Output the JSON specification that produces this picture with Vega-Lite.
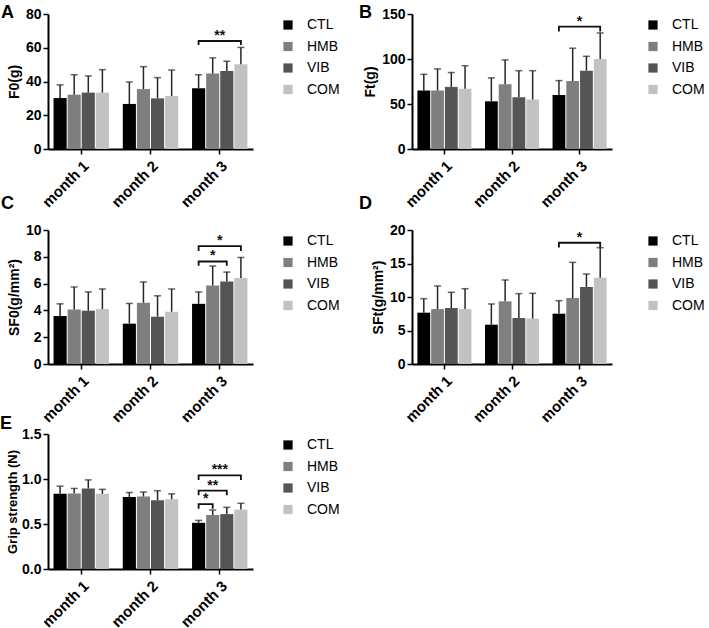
{
"$schema":"https://vega.github.io/schema/vega-lite/v6.json",
"padding":{"left":0,"top":4,"right":0,"bottom":0},
"spacing":-10,
"resolve":{"scale":{"color":"independent","y":"independent","x":"independent","xOffset":"independent"},"legend":{"color":"independent"}},
"config":{
 "font":"Liberation Sans",
 "view":{"stroke":null},
 "axis":{"domainColor":"#000","domainWidth":2,"tickColor":"#000","tickWidth":1.5,"tickSize":5,"labelColor":"#000","labelFontWeight":"bold","labelFontSize":14,"titleFontWeight":"bold","titleFontSize":14,"titleColor":"#000","grid":false},
 "axisX":{"labelAngle":-45,"title":null,"labelFontSize":15,"labelPadding":4},
 "legend":{"symbolType":"square","symbolSize":85,"labelFontSize":14,"labelColor":"#000","rowPadding":7.5,"offset":24,"labelOffset":12,"symbolStrokeWidth":0,"padding":4},
 "title":{"fontSize":18,"fontWeight":"bold","anchor":"start","frame":"group","color":"#000"}
},
"vconcat":[
{
"columns":2,
"spacing":{"row":-15,"column":15},
"resolve":{"scale":{"color":"independent","y":"independent","x":"independent","xOffset":"independent"},"legend":{"color":"independent"}},
"concat":[
{
 "width":205,"height":135,
 "title":{"text":"A","dx":-47,"offset":-15},
 "data":{"values":[
  {"month":"month 1","group":"CTL","mean":30.2,"err":38},
  {"month":"month 1","group":"HMB","mean":32.2,"err":44},
  {"month":"month 1","group":"VIB","mean":33.4,"err":43.3},
  {"month":"month 1","group":"COM","mean":33.4,"err":47},
  {"month":"month 2","group":"CTL","mean":26.7,"err":39.7},
  {"month":"month 2","group":"HMB","mean":35.5,"err":48.8},
  {"month":"month 2","group":"VIB","mean":30,"err":42.3},
  {"month":"month 2","group":"COM","mean":31.4,"err":46.8},
  {"month":"month 3","group":"CTL","mean":36,"err":44},
  {"month":"month 3","group":"HMB","mean":44.7,"err":54},
  {"month":"month 3","group":"VIB","mean":46.2,"err":52},
  {"month":"month 3","group":"COM","mean":50.2,"err":60.2}
 ]},
 "layer":[
  {"mark":{"type":"bar"},"encoding":{
   "x":{"field":"month","type":"nominal","scale":{"paddingInner":0.2,"paddingOuter":0.08},"title":null},
   "xOffset":{"field":"group","type":"nominal","scale":{"domain":["CTL","HMB","VIB","COM"],"paddingInner":0.07}},
   "y":{"field":"mean","type":"quantitative","scale":{"domain":[0,80]},"axis":{"values":[0,20,40,60,80]},"title":"F0(g)"},
   "color":{"field":"group","type":"nominal","scale":{"domain":["CTL","HMB","VIB","COM"],"range":["#000000","#7f7f7f","#555555","#c2c2c2"]},"legend":{"title":null}}}},
  {"mark":{"type":"rule","color":"#262626","strokeWidth":1.5},"encoding":{
   "x":{"field":"month","type":"nominal"},
   "xOffset":{"field":"group","type":"nominal"},
   "y":{"field":"mean","type":"quantitative","scale":{"domain":[0,80]},"axis":{"values":[0,20,40,60,80]},"title":"F0(g)"},"y2":{"field":"err"}}},
  {"mark":{"type":"tick","color":"#262626","thickness":1.5,"size":7},"encoding":{
   "x":{"field":"month","type":"nominal"},
   "xOffset":{"field":"group","type":"nominal"},
   "y":{"field":"err","type":"quantitative","scale":{"domain":[0,80]},"axis":{"values":[0,20,40,60,80]},"title":"F0(g)"}}},
  {"data":{"values":[
   {"id":"a","month":"month 3","group":"CTL","y":61.6,"s":1},
   {"id":"a","month":"month 3","group":"CTL","y":64,"s":2},
   {"id":"a","month":"month 3","group":"COM","y":64,"s":3},
   {"id":"a","month":"month 3","group":"COM","y":61.6,"s":4}]},
   "mark":{"type":"line","color":"#111","strokeWidth":1.8},"encoding":{
   "x":{"field":"month","type":"nominal"},
   "xOffset":{"field":"group","type":"nominal"},
   "y":{"field":"y","type":"quantitative","scale":{"domain":[0,80]},"axis":{"values":[0,20,40,60,80]},"title":"F0(g)"},
   "detail":{"field":"id"},"order":{"field":"s"}}},
  {"data":{"values":[{"month":"month 3","group":"VIB","y":64,"label":"**"}]},
   "mark":{"type":"text","fontSize":14,"fontWeight":"bold","baseline":"alphabetic","dy":-1,"dx":-7,"color":"#111"},"encoding":{
   "x":{"field":"month","type":"nominal"},
   "xOffset":{"field":"group","type":"nominal"},
   "y":{"field":"y","type":"quantitative","scale":{"domain":[0,80]},"axis":{"values":[0,20,40,60,80]},"title":"F0(g)"},
   "text":{"field":"label"}}}
 ]
},
{
 "width":200,"height":135,
 "title":{"text":"B","dx":-53,"offset":-15},
 "data":{"values":[
  {"month":"month 1","group":"CTL","mean":65,"err":83},
  {"month":"month 1","group":"HMB","mean":65,"err":89},
  {"month":"month 1","group":"VIB","mean":69,"err":85},
  {"month":"month 1","group":"COM","mean":67,"err":92.5},
  {"month":"month 2","group":"CTL","mean":53,"err":79},
  {"month":"month 2","group":"HMB","mean":72,"err":99},
  {"month":"month 2","group":"VIB","mean":57.5,"err":87},
  {"month":"month 2","group":"COM","mean":55,"err":87},
  {"month":"month 3","group":"CTL","mean":60,"err":76},
  {"month":"month 3","group":"HMB","mean":75.5,"err":112},
  {"month":"month 3","group":"VIB","mean":87,"err":103},
  {"month":"month 3","group":"COM","mean":100,"err":129}
 ]},
 "layer":[
  {"mark":{"type":"bar"},"encoding":{
   "x":{"field":"month","type":"nominal","scale":{"paddingInner":0.2,"paddingOuter":0.08},"title":null},
   "xOffset":{"field":"group","type":"nominal","scale":{"domain":["CTL","HMB","VIB","COM"],"paddingInner":0.07}},
   "y":{"field":"mean","type":"quantitative","scale":{"domain":[0,150]},"axis":{"values":[0,50,100,150]},"title":"Ft(g)"},
   "color":{"field":"group","type":"nominal","scale":{"domain":["CTL","HMB","VIB","COM"],"range":["#000000","#7f7f7f","#555555","#c2c2c2"]},"legend":{"title":null,"offset":30}}}},
  {"mark":{"type":"rule","color":"#262626","strokeWidth":1.5},"encoding":{
   "x":{"field":"month","type":"nominal"},
   "xOffset":{"field":"group","type":"nominal"},
   "y":{"field":"mean","type":"quantitative","scale":{"domain":[0,150]},"axis":{"values":[0,50,100,150]},"title":"Ft(g)"},"y2":{"field":"err"}}},
  {"mark":{"type":"tick","color":"#262626","thickness":1.5,"size":7},"encoding":{
   "x":{"field":"month","type":"nominal"},
   "xOffset":{"field":"group","type":"nominal"},
   "y":{"field":"err","type":"quantitative","scale":{"domain":[0,150]},"axis":{"values":[0,50,100,150]},"title":"Ft(g)"}}},
  {"data":{"values":[
   {"id":"a","month":"month 3","group":"CTL","y":130.5,"s":1},
   {"id":"a","month":"month 3","group":"CTL","y":136,"s":2},
   {"id":"a","month":"month 3","group":"COM","y":136,"s":3},
   {"id":"a","month":"month 3","group":"COM","y":130.5,"s":4}]},
   "mark":{"type":"line","color":"#111","strokeWidth":1.8},"encoding":{
   "x":{"field":"month","type":"nominal"},
   "xOffset":{"field":"group","type":"nominal"},
   "y":{"field":"y","type":"quantitative","scale":{"domain":[0,150]},"axis":{"values":[0,50,100,150]},"title":"Ft(g)"},
   "detail":{"field":"id"},"order":{"field":"s"}}},
  {"data":{"values":[{"month":"month 3","group":"VIB","y":136,"label":"*"}]},
   "mark":{"type":"text","fontSize":14,"fontWeight":"bold","baseline":"alphabetic","dy":-1,"dx":-7,"color":"#111"},"encoding":{
   "x":{"field":"month","type":"nominal"},
   "xOffset":{"field":"group","type":"nominal"},
   "y":{"field":"y","type":"quantitative","scale":{"domain":[0,150]},"axis":{"values":[0,50,100,150]},"title":"Ft(g)"},
   "text":{"field":"label"}}}
 ]
},
{
 "width":205,"height":134,
 "title":{"text":"C","dx":-47,"offset":10},
 "data":{"values":[
  {"month":"month 1","group":"CTL","mean":3.58,"err":4.49},
  {"month":"month 1","group":"HMB","mean":4.07,"err":5.75},
  {"month":"month 1","group":"VIB","mean":3.98,"err":5.38},
  {"month":"month 1","group":"COM","mean":4.1,"err":5.6},
  {"month":"month 2","group":"CTL","mean":3.01,"err":4.52},
  {"month":"month 2","group":"HMB","mean":4.57,"err":6.12},
  {"month":"month 2","group":"VIB","mean":3.53,"err":5.09},
  {"month":"month 2","group":"COM","mean":3.9,"err":5.6},
  {"month":"month 3","group":"CTL","mean":4.49,"err":5.38},
  {"month":"month 3","group":"HMB","mean":5.85,"err":7.31},
  {"month":"month 3","group":"VIB","mean":6.15,"err":6.86},
  {"month":"month 3","group":"COM","mean":6.42,"err":7.95}
 ]},
 "layer":[
  {"mark":{"type":"bar"},"encoding":{
   "x":{"field":"month","type":"nominal","scale":{"paddingInner":0.2,"paddingOuter":0.08},"title":null},
   "xOffset":{"field":"group","type":"nominal","scale":{"domain":["CTL","HMB","VIB","COM"],"paddingInner":0.07}},
   "y":{"field":"mean","type":"quantitative","scale":{"domain":[0,10]},"axis":{"values":[0,2,4,6,8,10]},"title":"SF0(g/mm²)"},
   "color":{"field":"group","type":"nominal","scale":{"domain":["CTL","HMB","VIB","COM"],"range":["#000000","#7f7f7f","#555555","#c2c2c2"]},"legend":{"title":null}}}},
  {"mark":{"type":"rule","color":"#262626","strokeWidth":1.5},"encoding":{
   "x":{"field":"month","type":"nominal"},
   "xOffset":{"field":"group","type":"nominal"},
   "y":{"field":"mean","type":"quantitative","scale":{"domain":[0,10]},"axis":{"values":[0,2,4,6,8,10]},"title":"SF0(g/mm²)"},"y2":{"field":"err"}}},
  {"mark":{"type":"tick","color":"#262626","thickness":1.5,"size":7},"encoding":{
   "x":{"field":"month","type":"nominal"},
   "xOffset":{"field":"group","type":"nominal"},
   "y":{"field":"err","type":"quantitative","scale":{"domain":[0,10]},"axis":{"values":[0,2,4,6,8,10]},"title":"SF0(g/mm²)"}}},
  {"data":{"values":[
   {"id":"a","month":"month 3","group":"CTL","y":7.33,"s":1},
   {"id":"a","month":"month 3","group":"CTL","y":7.65,"s":2},
   {"id":"a","month":"month 3","group":"VIB","y":7.65,"s":3},
   {"id":"a","month":"month 3","group":"VIB","y":7.33,"s":4},
   {"id":"b","month":"month 3","group":"CTL","y":8.44,"s":1},
   {"id":"b","month":"month 3","group":"CTL","y":8.79,"s":2},
   {"id":"b","month":"month 3","group":"COM","y":8.79,"s":3},
   {"id":"b","month":"month 3","group":"COM","y":8.44,"s":4}]},
   "mark":{"type":"line","color":"#111","strokeWidth":1.8},"encoding":{
   "x":{"field":"month","type":"nominal"},
   "xOffset":{"field":"group","type":"nominal"},
   "y":{"field":"y","type":"quantitative","scale":{"domain":[0,10]},"axis":{"values":[0,2,4,6,8,10]},"title":"SF0(g/mm²)"},
   "detail":{"field":"id"},"order":{"field":"s"}}},
  {"data":{"values":[{"month":"month 3","group":"HMB","y":7.65,"label":"*"}]},
   "mark":{"type":"text","fontSize":14,"fontWeight":"bold","baseline":"alphabetic","dy":-1,"color":"#111"},"encoding":{
   "x":{"field":"month","type":"nominal"},
   "xOffset":{"field":"group","type":"nominal"},
   "y":{"field":"y","type":"quantitative","scale":{"domain":[0,10]},"axis":{"values":[0,2,4,6,8,10]},"title":"SF0(g/mm²)"},
   "text":{"field":"label"}}},
  {"data":{"values":[{"month":"month 3","group":"VIB","y":8.79,"label":"*"}]},
   "mark":{"type":"text","fontSize":14,"fontWeight":"bold","baseline":"alphabetic","dy":-1,"dx":-7,"color":"#111"},"encoding":{
   "x":{"field":"month","type":"nominal"},
   "xOffset":{"field":"group","type":"nominal"},
   "y":{"field":"y","type":"quantitative","scale":{"domain":[0,10]},"axis":{"values":[0,2,4,6,8,10]},"title":"SF0(g/mm²)"},
   "text":{"field":"label"}}}
 ]
},
{
 "width":200,"height":134,
 "title":{"text":"D","dx":-53,"offset":10},
 "data":{"values":[
  {"month":"month 1","group":"CTL","mean":7.66,"err":9.75},
  {"month":"month 1","group":"HMB","mean":8.2,"err":11.64},
  {"month":"month 1","group":"VIB","mean":8.36,"err":10.7},
  {"month":"month 1","group":"COM","mean":8.2,"err":11.24},
  {"month":"month 2","group":"CTL","mean":5.87,"err":8.96},
  {"month":"month 2","group":"HMB","mean":9.35,"err":12.54},
  {"month":"month 2","group":"VIB","mean":6.87,"err":10.5},
  {"month":"month 2","group":"COM","mean":6.77,"err":10.55},
  {"month":"month 3","group":"CTL","mean":7.51,"err":9.45},
  {"month":"month 3","group":"HMB","mean":9.85,"err":15.17},
  {"month":"month 3","group":"VIB","mean":11.49,"err":13.43},
  {"month":"month 3","group":"COM","mean":12.89,"err":17.36}
 ]},
 "layer":[
  {"mark":{"type":"bar"},"encoding":{
   "x":{"field":"month","type":"nominal","scale":{"paddingInner":0.2,"paddingOuter":0.08},"title":null},
   "xOffset":{"field":"group","type":"nominal","scale":{"domain":["CTL","HMB","VIB","COM"],"paddingInner":0.07}},
   "y":{"field":"mean","type":"quantitative","scale":{"domain":[0,20]},"axis":{"values":[0,5,10,15,20]},"title":"SFt(g/mm²)"},
   "color":{"field":"group","type":"nominal","scale":{"domain":["CTL","HMB","VIB","COM"],"range":["#000000","#7f7f7f","#555555","#c2c2c2"]},"legend":{"title":null,"offset":30}}}},
  {"mark":{"type":"rule","color":"#262626","strokeWidth":1.5},"encoding":{
   "x":{"field":"month","type":"nominal"},
   "xOffset":{"field":"group","type":"nominal"},
   "y":{"field":"mean","type":"quantitative","scale":{"domain":[0,20]},"axis":{"values":[0,5,10,15,20]},"title":"SFt(g/mm²)"},"y2":{"field":"err"}}},
  {"mark":{"type":"tick","color":"#262626","thickness":1.5,"size":7},"encoding":{
   "x":{"field":"month","type":"nominal"},
   "xOffset":{"field":"group","type":"nominal"},
   "y":{"field":"err","type":"quantitative","scale":{"domain":[0,20]},"axis":{"values":[0,5,10,15,20]},"title":"SFt(g/mm²)"}}},
  {"data":{"values":[
   {"id":"a","month":"month 3","group":"CTL","y":17.4,"s":1},
   {"id":"a","month":"month 3","group":"CTL","y":18.1,"s":2},
   {"id":"a","month":"month 3","group":"COM","y":18.1,"s":3},
   {"id":"a","month":"month 3","group":"COM","y":17.4,"s":4}]},
   "mark":{"type":"line","color":"#111","strokeWidth":1.8},"encoding":{
   "x":{"field":"month","type":"nominal"},
   "xOffset":{"field":"group","type":"nominal"},
   "y":{"field":"y","type":"quantitative","scale":{"domain":[0,20]},"axis":{"values":[0,5,10,15,20]},"title":"SFt(g/mm²)"},
   "detail":{"field":"id"},"order":{"field":"s"}}},
  {"data":{"values":[{"month":"month 3","group":"VIB","y":18.1,"label":"*"}]},
   "mark":{"type":"text","fontSize":14,"fontWeight":"bold","baseline":"alphabetic","dy":-1,"dx":-7,"color":"#111"},"encoding":{
   "x":{"field":"month","type":"nominal"},
   "xOffset":{"field":"group","type":"nominal"},
   "y":{"field":"y","type":"quantitative","scale":{"domain":[0,20]},"axis":{"values":[0,5,10,15,20]},"title":"SFt(g/mm²)"},
   "text":{"field":"label"}}}
 ]
}
]
},
{
"hconcat":[
{
 "width":205,"height":135,
 "title":{"text":"E","dx":-48,"offset":-6},
 "data":{"values":[
  {"month":"month 1","group":"CTL","mean":0.835,"err":0.92},
  {"month":"month 1","group":"HMB","mean":0.84,"err":0.895},
  {"month":"month 1","group":"VIB","mean":0.895,"err":0.99},
  {"month":"month 1","group":"COM","mean":0.835,"err":0.885},
  {"month":"month 2","group":"CTL","mean":0.8,"err":0.85},
  {"month":"month 2","group":"HMB","mean":0.805,"err":0.855},
  {"month":"month 2","group":"VIB","mean":0.765,"err":0.87},
  {"month":"month 2","group":"COM","mean":0.775,"err":0.835},
  {"month":"month 3","group":"CTL","mean":0.513,"err":0.54},
  {"month":"month 3","group":"HMB","mean":0.6,"err":0.655},
  {"month":"month 3","group":"VIB","mean":0.61,"err":0.685},
  {"month":"month 3","group":"COM","mean":0.66,"err":0.73}
 ]},
 "layer":[
  {"mark":{"type":"bar"},"encoding":{
   "x":{"field":"month","type":"nominal","scale":{"paddingInner":0.2,"paddingOuter":0.08},"title":null},
   "xOffset":{"field":"group","type":"nominal","scale":{"domain":["CTL","HMB","VIB","COM"],"paddingInner":0.07}},
   "y":{"field":"mean","type":"quantitative","scale":{"domain":[0,1.5]},"axis":{"values":[0,0.5,1,1.5],"format":".1f","titlePadding":2,"titleFontSize":13},"title":"Grip strength (N)"},
   "color":{"field":"group","type":"nominal","scale":{"domain":["CTL","HMB","VIB","COM"],"range":["#000000","#7f7f7f","#555555","#c2c2c2"]},"legend":{"title":null}}}},
  {"mark":{"type":"rule","color":"#262626","strokeWidth":1.5},"encoding":{
   "x":{"field":"month","type":"nominal"},
   "xOffset":{"field":"group","type":"nominal"},
   "y":{"field":"mean","type":"quantitative","scale":{"domain":[0,1.5]},"axis":{"values":[0,0.5,1,1.5],"format":".1f","titlePadding":2,"titleFontSize":13},"title":"Grip strength (N)"},"y2":{"field":"err"}}},
  {"mark":{"type":"tick","color":"#262626","thickness":1.5,"size":7},"encoding":{
   "x":{"field":"month","type":"nominal"},
   "xOffset":{"field":"group","type":"nominal"},
   "y":{"field":"err","type":"quantitative","scale":{"domain":[0,1.5]},"axis":{"values":[0,0.5,1,1.5],"format":".1f","titlePadding":2,"titleFontSize":13},"title":"Grip strength (N)"}}},
  {"data":{"values":[
   {"id":"a","month":"month 3","group":"CTL","y":0.67,"s":1},
   {"id":"a","month":"month 3","group":"CTL","y":0.72,"s":2},
   {"id":"a","month":"month 3","group":"HMB","y":0.72,"s":3},
   {"id":"a","month":"month 3","group":"HMB","y":0.67,"s":4},
   {"id":"b","month":"month 3","group":"CTL","y":0.82,"s":1},
   {"id":"b","month":"month 3","group":"CTL","y":0.87,"s":2},
   {"id":"b","month":"month 3","group":"VIB","y":0.87,"s":3},
   {"id":"b","month":"month 3","group":"VIB","y":0.82,"s":4},
   {"id":"c","month":"month 3","group":"CTL","y":0.99,"s":1},
   {"id":"c","month":"month 3","group":"CTL","y":1.04,"s":2},
   {"id":"c","month":"month 3","group":"COM","y":1.04,"s":3},
   {"id":"c","month":"month 3","group":"COM","y":0.99,"s":4}]},
   "mark":{"type":"line","color":"#111","strokeWidth":1.8},"encoding":{
   "x":{"field":"month","type":"nominal"},
   "xOffset":{"field":"group","type":"nominal"},
   "y":{"field":"y","type":"quantitative","scale":{"domain":[0,1.5]},"axis":{"values":[0,0.5,1,1.5],"format":".1f","titlePadding":2,"titleFontSize":13},"title":"Grip strength (N)"},
   "detail":{"field":"id"},"order":{"field":"s"}}},
  {"data":{"values":[{"month":"month 3","group":"HMB","y":0.87,"label":"**"}]},
   "mark":{"type":"text","fontSize":14,"fontWeight":"bold","baseline":"alphabetic","dy":-1,"color":"#111"},"encoding":{
   "x":{"field":"month","type":"nominal"},
   "xOffset":{"field":"group","type":"nominal"},
   "y":{"field":"y","type":"quantitative","scale":{"domain":[0,1.5]},"axis":{"values":[0,0.5,1,1.5],"format":".1f","titlePadding":2,"titleFontSize":13},"title":"Grip strength (N)"},
   "text":{"field":"label"}}},
  {"data":{"values":[{"month":"month 3","group":"HMB","y":0.72,"label":"*"},{"month":"month 3","group":"VIB","y":1.04,"label":"***"}]},
   "mark":{"type":"text","fontSize":14,"fontWeight":"bold","baseline":"alphabetic","dy":-1,"dx":-7,"color":"#111"},"encoding":{
   "x":{"field":"month","type":"nominal"},
   "xOffset":{"field":"group","type":"nominal"},
   "y":{"field":"y","type":"quantitative","scale":{"domain":[0,1.5]},"axis":{"values":[0,0.5,1,1.5],"format":".1f","titlePadding":2,"titleFontSize":13},"title":"Grip strength (N)"},
   "text":{"field":"label"}}}
 ]
}
]
}
]
}
